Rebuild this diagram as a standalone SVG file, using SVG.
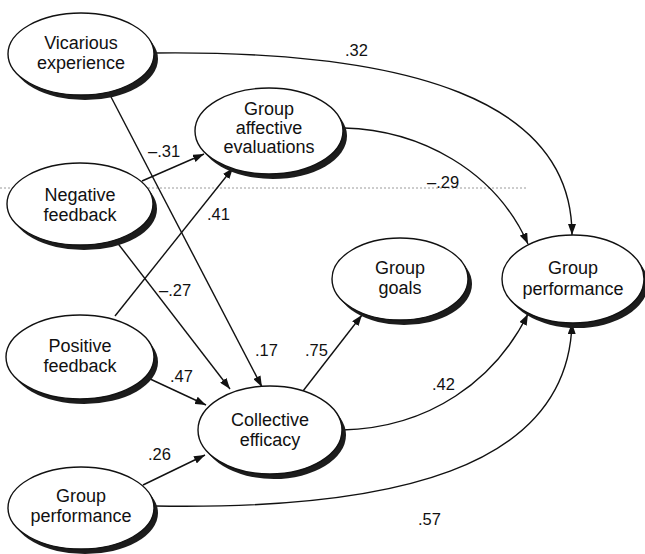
<svg xmlns="http://www.w3.org/2000/svg" width="645" height="554" viewBox="0 0 645 554">
  <defs>
    <marker id="arrow" markerUnits="userSpaceOnUse" markerWidth="11" markerHeight="8" refX="11" refY="4" orient="auto">
      <path d="M0,0 L11,4 L0,8 z" fill="#111"/>
    </marker>
    <style>
      .shadow { fill: #1c1c1c; }
      .node { fill: #fff; stroke: #111; stroke-width: 1.4; }
      .label { font-family: "Liberation Sans", Arial, sans-serif; font-size: 18px; fill: #111; text-anchor: middle; }
      .coef { font-family: "Liberation Sans", Arial, sans-serif; font-size: 16.5px; fill: #111; }
      .edge { fill: none; stroke: #111; stroke-width: 1.4; marker-end: url(#arrow); }
      .fold { stroke: #9a9a9a; stroke-width: 1; stroke-dasharray: 2 2; }
    </style>
  </defs>

  <rect width="645" height="554" fill="#fff"/>

  <!-- faint dotted rule across the page -->
  <line class="fold" x1="0" y1="188" x2="527" y2="188"/>

  <!-- paths -->
  <g id="connectors">
    <path class="edge" d="M154,53 C410,50 572,100 572,235"/>
    <path class="edge" d="M110,95 L262,387"/>
    <path class="edge" d="M142,181 L204,154"/>
    <path class="edge" d="M116,241 L230,389"/>
    <path class="edge" d="M115,316 L233,168"/>
    <path class="edge" d="M148,378 L206,405"/>
    <path class="edge" d="M143,485 L205,455"/>
    <path class="edge" d="M344,128 C420,130 495,170 528,244"/>
    <path class="edge" d="M303,391 L362,315"/>
    <path class="edge" d="M342,430 C430,428 495,380 528,314"/>
    <path class="edge" d="M155,506 C390,510 568,470 572,323"/>
  </g>

  <!-- path coefficients -->
  <g id="coefficients">
    <text class="coef" x="345" y="56">.32</text>
    <text class="coef" x="148" y="157">–.31</text>
    <text class="coef" x="427" y="188">–.29</text>
    <text class="coef" x="207" y="220">.41</text>
    <text class="coef" x="159" y="296">–.27</text>
    <text class="coef" x="255" y="356">.17</text>
    <text class="coef" x="305" y="356">.75</text>
    <text class="coef" x="170" y="382">.47</text>
    <text class="coef" x="432" y="390">.42</text>
    <text class="coef" x="148" y="460">.26</text>
    <text class="coef" x="418" y="525">.57</text>
  </g>

  <g id="vicarious-experience">
    <ellipse class="shadow" cx="85" cy="59" rx="73" ry="41"/>
    <ellipse class="node" cx="81" cy="54" rx="73" ry="41"/>
    <text class="label" x="81" y="49">Vicarious</text>
    <text class="label" x="81" y="69">experience</text>
  </g>

  <g id="group-affective-evaluations">
    <ellipse class="shadow" cx="273" cy="136" rx="74" ry="43"/>
    <ellipse class="node" cx="269" cy="131" rx="74" ry="43"/>
    <text class="label" x="269" y="115">Group</text>
    <text class="label" x="269" y="134">affective</text>
    <text class="label" x="269" y="153">evaluations</text>
  </g>

  <g id="negative-feedback">
    <ellipse class="shadow" cx="84" cy="209" rx="73" ry="41"/>
    <ellipse class="node" cx="80" cy="204" rx="73" ry="41"/>
    <text class="label" x="80" y="201">Negative</text>
    <text class="label" x="80" y="221">feedback</text>
  </g>

  <g id="positive-feedback">
    <ellipse class="shadow" cx="84" cy="362" rx="74" ry="42"/>
    <ellipse class="node" cx="80" cy="357" rx="74" ry="42"/>
    <text class="label" x="80" y="352">Positive</text>
    <text class="label" x="80" y="372">feedback</text>
  </g>

  <g id="group-performance-prior">
    <ellipse class="shadow" cx="85" cy="513" rx="73" ry="41"/>
    <ellipse class="node" cx="81" cy="508" rx="73" ry="41"/>
    <text class="label" x="81" y="502">Group</text>
    <text class="label" x="81" y="522">performance</text>
  </g>

  <g id="collective-efficacy">
    <ellipse class="shadow" cx="274" cy="435" rx="72" ry="44"/>
    <ellipse class="node" cx="270" cy="430" rx="72" ry="44"/>
    <text class="label" x="270" y="426">Collective</text>
    <text class="label" x="270" y="446">efficacy</text>
  </g>

  <g id="group-goals">
    <ellipse class="shadow" cx="404" cy="284" rx="68" ry="41"/>
    <ellipse class="node" cx="400" cy="279" rx="68" ry="41"/>
    <text class="label" x="400" y="274">Group</text>
    <text class="label" x="400" y="294">goals</text>
  </g>

  <g id="group-performance">
    <ellipse class="shadow" cx="577" cy="284" rx="71" ry="44"/>
    <ellipse class="node" cx="573" cy="279" rx="71" ry="44"/>
    <text class="label" x="573" y="274">Group</text>
    <text class="label" x="573" y="295">performance</text>
  </g>
</svg>
